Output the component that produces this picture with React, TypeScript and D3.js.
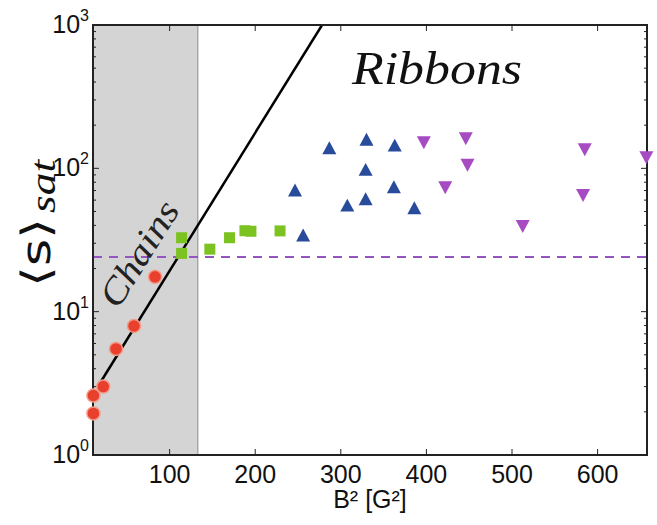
import React from 'react';
import * as d3 from 'd3';

// B^2 [G^2] vs <s>_sat
const chainB2 = [11, 11, 22.5, 37.4, 58.4, 83];
const chainS = [2.6, 1.95, 3.0, 5.5, 7.95, 17.5];

const greenB2 = [114, 114, 147, 170, 188, 195, 229];
const greenS = [32.8, 25.5, 27.3, 32.8, 36.7, 36.4, 36.6];

const blueB2 = [246.5, 256, 286.6, 307.6, 329, 330, 329, 362, 363, 385.9];
const blueS = [70, 34, 138, 54.9, 60.9, 158, 97.5, 73.8, 144, 52.7];

const magentaB2 = [397, 422, 446, 448, 512.5, 583, 585, 657];
const magentaS = [152, 73.8, 162, 106, 39.6, 65.2, 136, 119.5];

const xTicks = [100, 200, 300, 400, 500, 600];
const yDecades = [0, 1, 2, 3];

const chainLimit = 133; // end of shaded "Chains" region
const ribbonLevel = 24.1; // dashed threshold
const fitLogA = 0.322; // log10 <s> = fitLogA + fitSlope * B^2
const fitSlope = 0.00963;
const fitStart = 18;

const W = 657;
const H = 525;
const margin = { top: 25, right: 10, bottom: 70, left: 93 };

const App = () => {
  const x = d3.scaleLinear().domain([10.5, 657.7]).range([margin.left, W - margin.right]);
  const y = d3.scaleLog().domain([1, 1000]).range([H - margin.bottom, margin.top]);
  const [x0, x1] = x.range();
  const [yb, yt] = y.range();

  const minor: number[] = [];
  yDecades.slice(0, -1).forEach(d => {
    for (let k = 2; k <= 9; k++) minor.push(k * Math.pow(10, d));
  });

  const fitEnd = (3 - fitLogA) / fitSlope;
  const fitLine = d3.line<number>()
    .x(d => x(d))
    .y(d => y(Math.pow(10, fitLogA + fitSlope * d)));

  const tri = (up: boolean) => {
    const s = 7;
    return up ? `M0,${-s}L${s},${s * 0.85}L${-s},${s * 0.85}Z` : `M0,${s}L${s},${-s * 0.85}L${-s},${-s * 0.85}Z`;
  };

  return (
    <svg width={W} height={H} style={{ position: 'absolute', left: 0, top: 0, background: '#fff' }}
      fontFamily="'Liberation Sans', Arial, sans-serif">
      <defs>
        <clipPath id="plot">
          <rect x={x0} y={yt} width={x1 - x0} height={yb - yt} />
        </clipPath>
      </defs>

      {/* shaded chains region */}
      <rect x={x0} y={yt} width={x(chainLimit) - x0} height={yb - yt} fill="#d4d4d4" />
      <line x1={x(chainLimit)} x2={x(chainLimit)} y1={yt} y2={yb} stroke="#8a8a8a" strokeWidth={1} />

      {/* dashed threshold */}
      <line x1={x0} x2={x1} y1={y(ribbonLevel)} y2={y(ribbonLevel)}
        stroke="#9455c4" strokeWidth={2} strokeDasharray="9,7" />

      {/* exponential fit */}
      <path d={fitLine([fitStart, fitEnd]) || ''} fill="none" stroke="#000" strokeWidth={2.5}
        clipPath="url(#plot)" />

      {/* axes frame and ticks */}
      <rect x={x0} y={yt} width={x1 - x0} height={yb - yt} fill="none" stroke="#222" strokeWidth={2} />
      {xTicks.map(t => (
        <g key={'xt' + t}>
          <line x1={x(t)} x2={x(t)} y1={yb} y2={yb - 6} stroke="#222" strokeWidth={1} />
          <line x1={x(t)} x2={x(t)} y1={yt} y2={yt + 6} stroke="#222" strokeWidth={1} />
          <text x={x(t)} y={yb + 28} textAnchor="middle" fontSize={25} fill="#111">{t}</text>
        </g>
      ))}
      {yDecades.map(d => (
        <g key={'yt' + d}>
          <line x1={x0} x2={x0 + 6} y1={y(Math.pow(10, d))} y2={y(Math.pow(10, d))} stroke="#222" strokeWidth={1} />
          <line x1={x1} x2={x1 - 6} y1={y(Math.pow(10, d))} y2={y(Math.pow(10, d))} stroke="#222" strokeWidth={1} />
          <text x={89} y={y(Math.pow(10, d)) + 8} textAnchor="end" fill="#111">
            <tspan fontSize={25}>10</tspan>
            <tspan fontSize={16} dy={-12}>{d}</tspan>
          </text>
        </g>
      ))}
      {minor.map(m => (
        <g key={'ym' + m}>
          <line x1={x0} x2={x0 + 3} y1={y(m)} y2={y(m)} stroke="#222" strokeWidth={1} />
          <line x1={x1} x2={x1 - 3} y1={y(m)} y2={y(m)} stroke="#222" strokeWidth={1} />
        </g>
      ))}

      {/* data */}
      {chainB2.map((b, i) => (
        <circle key={'c' + i} cx={x(b)} cy={y(chainS[i])} r={6.5} fill="#e8402c"
          stroke="#f29a88" strokeWidth={1.5} />
      ))}
      {greenB2.map((b, i) => (
        <rect key={'g' + i} x={x(b) - 5.5} y={y(greenS[i]) - 5.5} width={11} height={11} fill="#7cc322" />
      ))}
      {blueB2.map((b, i) => (
        <path key={'b' + i} d={tri(true)} transform={`translate(${x(b)},${y(blueS[i])})`} fill="#284b9b" />
      ))}
      {magentaB2.map((b, i) => (
        <path key={'m' + i} d={tri(false)} transform={`translate(${x(b)},${y(magentaS[i])})`} fill="#a64bc1" />
      ))}

      {/* annotations */}
      <text x={352} y={84} fontSize={46} fontStyle="italic" textLength={170} lengthAdjust="spacingAndGlyphs"
        fontFamily="'Liberation Serif', 'DejaVu Serif', serif" fill="#111">Ribbons</text>
      <text transform="translate(118,310) rotate(-58)" fontSize={36} fontStyle="italic" textLength={118}
        lengthAdjust="spacingAndGlyphs" fontFamily="'Liberation Serif', 'DejaVu Serif', serif" fill="#222">Chains</text>

      {/* axis labels */}
      <text x={(x0 + x1) / 2} y={508} textAnchor="middle" fontSize={25} fill="#111">B² [G²]</text>
      <g transform="translate(50,223) rotate(-90)">
        <text x={-64} y={0} fontSize={40} textLength={69} lengthAdjust="spacingAndGlyphs"
          fontFamily="'DejaVu Sans', sans-serif" fill="#111">⟨s⟩</text>
        <text x={10} y={5} fontSize={36} fontStyle="italic" textLength={53} lengthAdjust="spacingAndGlyphs"
          fontFamily="'Liberation Serif', 'DejaVu Serif', serif" fill="#111">sat</text>
      </g>
    </svg>
  );
};

export default App;
